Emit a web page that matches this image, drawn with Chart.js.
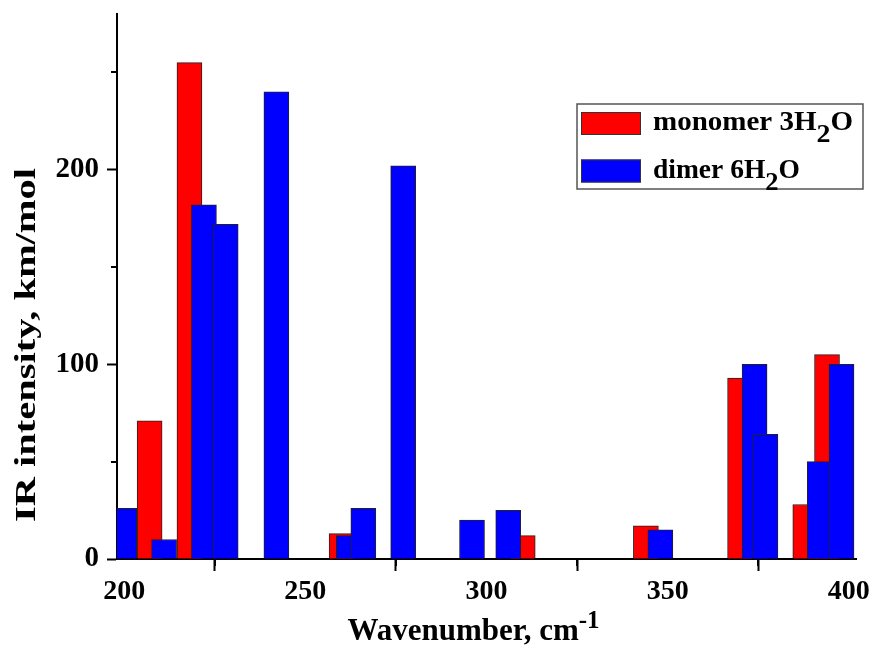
<!DOCTYPE html>
<html>
<head>
<meta charset="utf-8">
<script src="https://cdn.jsdelivr.net/npm/chart.js@4.4.0/dist/chart.umd.min.js"></script>
<style>
  html, body { margin: 0; padding: 0; background: #fff; }
  #wrap { width: 873px; height: 659px; }
</style>
</head>
<body>
<div id="wrap"><canvas id="irChart"></canvas></div>
<script>
// ---- data ----
const monomerX = [207, 218, 260, 310, 344, 370, 388, 394];
const monomerY = [71, 255, 13, 12, 17, 93, 28, 105];
const dimerX = [200, 211, 222, 228, 242, 262, 266, 277, 296, 306, 348, 374, 377, 392, 398];
const dimerY = [26, 10, 182, 172, 240, 12, 26, 202, 20, 25, 15, 100, 64, 50, 100];
const seriesNames = ["monomer 3H₂O", "dimer 6H₂O"];
const xMajorTicks = [200, 250, 300, 350, 400];
const xMinorTicks = [225, 275, 325, 375];
const yMajorTicks = [0, 100, 200];
const yMinorTicks = [50, 150, 250];
const xTitle = "Wavenumber, cm⁻¹";
const yTitle = "IR intensity, km/mol";

const FONT = '"Liberation Serif", "Times New Roman", serif';
const RED = "#ff0000";
const BLUE = "#0000ff";

// split text into normal / subscript / superscript runs
function richParts(text) {
  const map = { "₂": ["2", "sub"], "⁻": ["-", "sup"], "¹": ["1", "sup"] };
  const parts = [];
  for (const ch of text) {
    const m = map[ch];
    const type = m ? m[1] : "n";
    const c = m ? m[0] : ch;
    const last = parts[parts.length - 1];
    if (last && last.type === type) last.s += c;
    else parts.push({ type, s: c });
  }
  return parts;
}

// draws text with ₂ lowered and ⁻¹ raised; width is stretched to targetW if given
function drawRich(ctx, text, x, y, size, align, targetW, subScale) {
  const parts = richParts(text);
  const sizeFor = t => t === "n" ? size : Math.round(size * (t === "sub" ? subScale : 0.8));
  let w = 0;
  parts.forEach(p => {
    ctx.font = `bold ${sizeFor(p.type)}px ${FONT}`;
    p.w = ctx.measureText(p.s).width;
    w += p.w;
  });
  const hs = targetW ? targetW / w : 1;
  ctx.save();
  ctx.translate(align === "center" ? x - w * hs / 2 : x, y);
  ctx.scale(hs, 1);
  ctx.textAlign = "left";
  ctx.textBaseline = "alphabetic";
  let cx = 0;
  parts.forEach(p => {
    ctx.font = `bold ${sizeFor(p.type)}px ${FONT}`;
    const dy = p.type === "sub" ? size * 0.45 : p.type === "sup" ? -size * 0.4 : 0;
    ctx.fillText(p.s, cx, dy);
    cx += p.w;
  });
  ctx.restore();
}

// minor ticks, axis titles and the boxed legend
const extras = {
  id: "extras",
  afterDraw(chart) {
    const ctx = chart.ctx;
    const xs = chart.scales.x, ys = chart.scales.y;
    const area = chart.chartArea;
    ctx.save();
    ctx.strokeStyle = "#000";
    ctx.lineWidth = 2;
    xMinorTicks.forEach(v => {
      const px = Math.round(xs.getPixelForValue(v));
      ctx.beginPath(); ctx.moveTo(px, area.bottom); ctx.lineTo(px, area.bottom + 7); ctx.stroke();
    });
    yMinorTicks.forEach(v => {
      const py = Math.round(ys.getPixelForValue(v));
      ctx.beginPath(); ctx.moveTo(area.left, py); ctx.lineTo(area.left - 6, py); ctx.stroke();
    });

    ctx.fillStyle = "#000";
    drawRich(ctx, xTitle, (area.left + area.right) / 2 - 13, 640, 31, "center", 0, 0.8);

    ctx.save();
    ctx.translate(35, 345);
    ctx.rotate(-Math.PI / 2);
    drawRich(ctx, yTitle, 0, 0, 30, "center", 354, 0.8);
    ctx.restore();

    // legend
    const colors = [RED, BLUE];
    const widths = [200, 147];
    ctx.lineWidth = 1.5;
    ctx.strokeStyle = "#555";
    ctx.strokeRect(577, 104, 286, 85);
    seriesNames.forEach((name, i) => {
      const top = 112 + i * 47.5;
      ctx.fillStyle = colors[i];
      ctx.fillRect(581, top, 60, 23);
      ctx.lineWidth = 1;
      ctx.strokeStyle = "#333";
      ctx.strokeRect(581.5, top + 0.5, 59, 22);
      ctx.fillStyle = "#000";
      drawRich(ctx, name, 653, 129.5 + i * 48, 27, "left", widths[i], 0.95);
    });
    ctx.restore();
  }
};

const monomerData = monomerX.map((x, i) => ({ x, y: monomerY[i] }));
const dimerData = dimerX.map((x, i) => ({ x, y: dimerY[i] }));

// dataset 0 is painted last, so the blue bars sit over the red ones
const chart = new Chart(document.getElementById("irChart"), {
  type: "bar",
  data: {
    datasets: [
      {
        label: seriesNames[1],
        data: dimerData,
        backgroundColor: BLUE,
        borderColor: "#222",
        borderWidth: 1,
        barThickness: 25,
        grouped: false
      },
      {
        label: seriesNames[0],
        data: monomerData,
        backgroundColor: RED,
        borderColor: "#222",
        borderWidth: 1,
        barThickness: 25,
        grouped: false
      }
    ]
  },
  options: {
    responsive: true,
    maintainAspectRatio: false,
    animation: false,
    layout: { padding: { left: 0, top: 14, right: 17, bottom: 0 } },
    plugins: { legend: { display: false }, tooltip: { enabled: false } },
    scales: {
      x: {
        type: "linear",
        min: 198,
        max: 402,
        offset: false,
        z: 1,
        afterBuildTicks: s => { s.ticks = xMajorTicks.map(v => ({ value: v })); },
        afterFit: s => { s.height = 100; s.paddingLeft = 0; s.paddingRight = 0; },
        grid: { drawOnChartArea: false, drawTicks: true, tickLength: 12, tickWidth: 2, tickColor: "#000" },
        border: { display: true, color: "#000", width: 2 },
        ticks: { color: "#000", padding: 4, maxRotation: 0, font: { family: FONT, size: 28, weight: "bold" } }
      },
      y: {
        min: 0,
        max: 280,
        z: 1,
        afterBuildTicks: s => { s.ticks = yMajorTicks.map(v => ({ value: v })); },
        afterFit: s => { s.width = 117; s.paddingTop = 0; s.paddingBottom = 0; },
        grid: { drawOnChartArea: false, drawTicks: true, tickLength: 10, tickWidth: 2, tickColor: "#000" },
        border: { display: true, color: "#000", width: 2 },
        ticks: { color: "#000", padding: 8, font: { family: FONT, size: 29, weight: "bold" } }
      }
    }
  },
  plugins: [extras]
});
</script>
</body>
</html>
